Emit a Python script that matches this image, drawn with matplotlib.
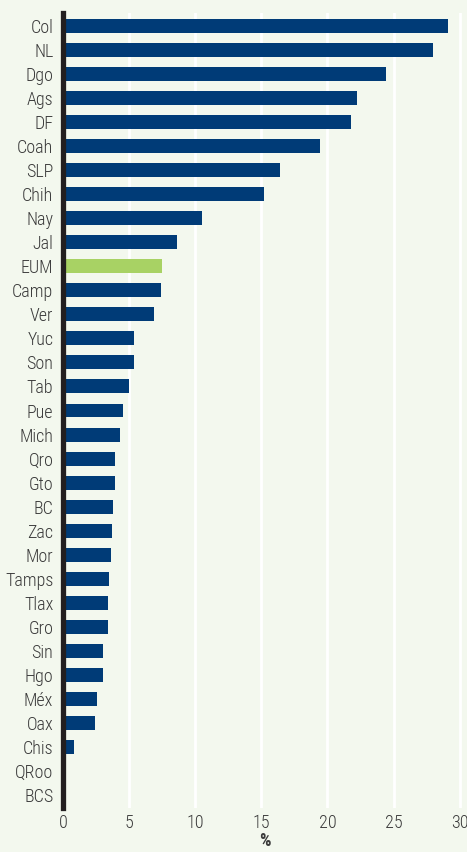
import matplotlib
matplotlib.use("Agg")
import matplotlib.pyplot as plt
from matplotlib import font_manager

categories = ["Col", "NL", "Dgo", "Ags", "DF", "Coah", "SLP", "Chih", "Nay", "Jal",
              "EUM", "Camp", "Ver", "Yuc", "Son", "Tab", "Pue", "Mich", "Qro", "Gto",
              "BC", "Zac", "Mor", "Tamps", "Tlax", "Gro", "Sin", "Hgo", "Méx", "Oax",
              "Chis", "QRoo", "BCS"]
values = [29.1, 28.0, 24.4, 22.2, 21.8, 19.4, 16.4, 15.2, 10.5, 8.6,
          7.5, 7.4, 6.9, 5.4, 5.4, 5.0, 4.5, 4.3, 3.9, 3.9,
          3.8, 3.7, 3.6, 3.5, 3.4, 3.4, 3.0, 3.0, 2.6, 2.4,
          0.8, 0.0, 0.0]
highlight = "EUM"
xticks = [0, 5, 10, 15, 20, 25, 30]
xlabel = "%"

names = {f.name for f in font_manager.fontManager.ttflist}
fam = None
for cand in ["Roboto Condensed", "Liberation Sans Narrow", "Open Sans Condensed",
             "Noto Sans Condensed", "DejaVu Sans Condensed", "Roboto"]:
    if cand in names:
        fam = cand
        break
if fam is None:
    fam = "DejaVu Sans"
condensed = fam != "Roboto" and fam != "DejaVu Sans"
plt.rcParams["font.family"] = [fam, "DejaVu Sans"]
fs = 13 if condensed else 11.5

bg = "#f3f8ee"
navy = "#003b77"
green = "#a8d264"
txt = "#3a3a3a"

fig = plt.figure(figsize=(4.67, 8.52), dpi=100, facecolor=bg)
ax = fig.add_axes([63 / 467, 44 / 852, 1 - 63 / 467, (808 - 13) / 852])
ax.set_facecolor(bg)

colors = [green if c == highlight else navy for c in categories]
ypos = list(range(len(categories)))
ax.barh(ypos, values, height=0.58, color=colors, zorder=3)

ax.set_ylim(len(categories) - 1 + 0.54, -0.54)
ax.set_xlim(0, 30.55)
ax.set_yticks(ypos)
ax.set_yticklabels(categories, fontsize=fs, color=txt, fontweight="light")
ax.set_xticks(xticks)
ax.set_xticklabels([str(t) for t in xticks], fontsize=fs, color=txt, fontweight="light")
ax.tick_params(axis="y", length=0, pad=7)
ax.tick_params(axis="x", length=0, pad=4)

ax.grid(axis="x", color="white", linewidth=2, zorder=1)
ax.set_axisbelow(True)

for s in ["top", "right", "bottom"]:
    ax.spines[s].set_visible(False)
ax.spines["left"].set_color("#231f20")
ax.spines["left"].set_linewidth(3.8)
ax.spines["left"].set_zorder(4)

ax.set_xlabel(xlabel, fontsize=fs, fontweight="bold", color=txt, labelpad=0)

fig.savefig("out.png", dpi=100, facecolor=bg)
